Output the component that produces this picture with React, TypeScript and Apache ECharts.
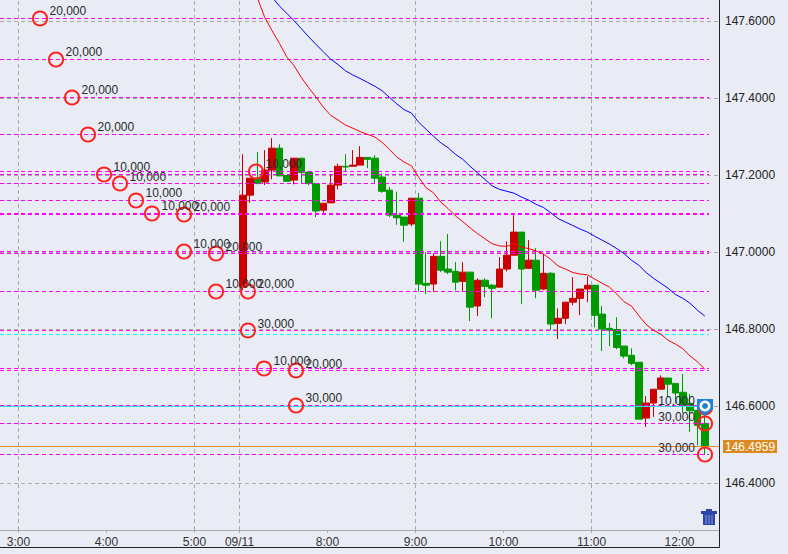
import React, { useEffect, useRef } from "react";
import * as echarts from "echarts";

const FONT = "Liberation Sans";
const FIRST_CANDLE_SLOT = 30.45;
const openPrices = [
  146.91, 147.149, 147.193, 147.183, 147.214, 147.271, 147.2, 147.188, 147.245, 147.209, 147.179, 147.11, 147.129, 147.175, 147.224, 147.224,
  147.227, 147.247, 147.245, 147.196, 147.162, 147.097, 147.092, 147.074, 147.141, 146.92, 146.918, 146.99, 146.957, 146.951, 146.925, 146.949,
  146.861, 146.928, 146.915, 146.91, 146.957, 146.993, 147.053, 146.959, 146.98, 146.905, 146.946, 146.816, 146.829, 146.871, 146.881, 146.905,
  146.915, 146.84, 146.803, 146.8, 146.757, 146.733, 146.715, 146.57, 146.609, 146.645, 146.674, 146.66, 146.637, 146.608, 146.59, 146.556,
];
const closePrices = [
  147.149, 147.193, 147.179, 147.214, 147.271, 147.199, 147.185, 147.245, 147.208, 147.179, 147.108, 147.128, 147.175, 147.224, 147.222, 147.227,
  147.247, 147.242, 147.193, 147.159, 147.097, 147.09, 147.071, 147.141, 146.918, 146.915, 146.99, 146.954, 146.949, 146.923, 146.949, 146.858,
  146.928, 146.912, 146.907, 146.957, 146.993, 147.053, 146.957, 146.98, 146.902, 146.946, 146.814, 146.829, 146.871, 146.881, 146.905, 146.915,
  146.837, 146.801, 146.798, 146.753, 146.731, 146.712, 146.567, 146.609, 146.645, 146.674, 146.658, 146.635, 146.603, 146.589, 146.551, 146.4959,
];
const lowPrices = [
  146.902, 147.129, 147.179, 147.175, 147.19, 147.199, 147.183, 147.177, 147.18, 147.175, 147.092, 147.103, 147.128, 147.164, 147.21, 147.224,
  147.227, 147.219, 147.179, 147.155, 147.092, 147.072, 147.028, 147.068, 146.898, 146.892, 146.898, 146.949, 146.944, 146.902, 146.898, 146.822,
  146.835, 146.884, 146.829, 146.91, 146.951, 146.993, 146.866, 146.957, 146.881, 146.902, 146.798, 146.775, 146.814, 146.863, 146.837, 146.871,
  146.806, 146.744, 146.757, 146.749, 146.725, 146.707, 146.567, 146.547, 146.573, 146.645, 146.625, 146.609, 146.583, 146.534, 146.499, 146.474,
];
const highPrices = [
  147.255, 147.193, 147.261, 147.266, 147.297, 147.281, 147.201, 147.245, 147.245, 147.209, 147.179, 147.128, 147.201, 147.231, 147.255, 147.266,
  147.276, 147.248, 147.253, 147.205, 147.17, 147.158, 147.092, 147.141, 147.155, 147.001, 146.998, 147.029, 147.048, 146.975, 146.975, 146.949,
  146.933, 146.933, 146.918, 146.988, 147.029, 147.097, 147.053, 147.032, 147.011, 146.996, 146.949, 146.855, 146.871, 146.936, 146.905, 146.938,
  146.915, 146.861, 146.817, 146.832, 146.757, 146.751, 146.715, 146.627, 146.645, 146.681, 146.674, 146.66, 146.684, 146.632, 146.59, 146.59,
];
const redMaStart = 2;
const redMa = [
  147.661, 147.61, 147.576, 147.543, 147.508, 147.485, 147.454, 147.428, 147.403, 147.377, 147.356, 147.344, 147.331, 147.323, 147.314, 147.307,
  147.3, 147.286, 147.268, 147.248, 147.235, 147.225, 147.195, 147.168, 147.155, 147.131, 147.114, 147.095, 147.08, 147.064, 147.049, 147.036,
  147.023, 147.017, 147.016, 147.022, 147.014, 147.01, 147.004, 146.996, 146.982, 146.965, 146.957, 146.948, 146.944, 146.942, 146.931, 146.92,
  146.91, 146.892, 146.872, 146.861, 146.836, 146.813, 146.798, 146.788, 146.772, 146.762, 146.75, 146.731, 146.716, 146.697,
];
const blueMaStart = 4;
const blueMa = [
  147.663, 147.64, 147.621, 147.602, 147.581, 147.56, 147.54, 147.521, 147.502, 147.488, 147.472, 147.461, 147.452, 147.442, 147.432, 147.42,
  147.403, 147.386, 147.371, 147.362, 147.338, 147.32, 147.302, 147.285, 147.272, 147.255, 147.242, 147.224, 147.207, 147.19, 147.173, 147.164,
  147.159, 147.154, 147.144, 147.136, 147.125, 147.117, 147.103, 147.088, 147.079, 147.07, 147.061, 147.053, 147.042, 147.032, 147.022, 147.01,
  146.997, 146.98, 146.967, 146.948, 146.933, 146.92, 146.907, 146.891, 146.881, 146.868, 146.85, 146.835,
];
const orderSlots = [
  2.796, 4.977, 7.159, 9.341, 11.523, 13.705, 15.887, 18.068, 22.432, 22.432, 26.796, 26.796, 31.159, 31.159, 33.341, 37.705, 37.705, 32.25, 93.477, 93.477, 93.477,
];
const orderPrices = [
  147.6078, 147.5013, 147.4026, 147.3065, 147.2026, 147.1792, 147.1351, 147.1013, 147.0987, 147.0026, 146.9974, 146.8987, 146.8987, 146.7974, 146.6987, 146.6935, 146.6026, 147.2104, 146.5558, 146.4753, 146.5974,
];
const orderSizes = [
  "20,000", "20,000", "20,000", "20,000", "10,000", "10,000", "10,000", "10,000", "20,000", "10,000", "20,000", "10,000", "20,000", "30,000", "10,000", "20,000", "30,000", "10,000", "30,000", "30,000", "10,000",
];
const priceTicks = [146.4, 146.6, 146.8, 147.0, 147.2, 147.4, 147.6];
const timeSlots = [-0.136, 11.864, 23.864, 30, 42, 54, 66, 78, 90];
const timeLabels = ["3:00", "4:00", "5:00", "09/11", "8:00", "9:00", "10:00", "11:00", "12:00"];
const gridSlots = [-0.136, 23.864, 30, 54, 78];
const lastPrice = 146.4959;
const askPrice = 146.6;
const cyanPrice = 146.787;

const X_MIN = -2.659;
const X_MAX = 95.386;
const Y_MIN = 146.27922;
const Y_MAX = 147.65584;
const LINE_END = 94.02;
const GRID_END = 95.25;
const ASK_END = 92.4;

const seg = (p: number, end: number) => [{ coord: [X_MIN, p] }, { coord: [end, p] }];

export default function App() {
  const ref = useRef<HTMLDivElement>(null);
  useEffect(() => {
    document.body.style.margin = "0";
    const chart = echarts.init(ref.current!, null, { renderer: "svg" });
    const candles = openPrices.map((o, i) => [FIRST_CANDLE_SLOT + i, o, closePrices[i], lowPrices[i], highPrices[i]]);
    const ma = (vals: number[], start: number) => vals.map((v, i) => [FIRST_CANDLE_SLOT + start + i, v]);
    const trashRects = [
      [706, 509, 6, 2, "#2b46a8"],
      [701, 511, 16, 3, "#2b46a8"],
      [703, 514, 12, 11, "#2b46a8"],
      [705.5, 515, 1, 9, "#8e9cdc"],
      [708.5, 515, 1, 9, "#8e9cdc"],
      [711.5, 515, 1, 9, "#8e9cdc"],
    ] as [number, number, number, number, string][];
    chart.setOption({
      animation: false,
      backgroundColor: "#E9ECF5",
      textStyle: { fontFamily: FONT, fontSize: 12 },
      grid: { left: 0, top: 0, width: 719, height: 530 },
      xAxis: {
        type: "value",
        min: X_MIN,
        max: X_MAX,
        splitLine: { show: false },
        axisLine: { show: true, lineStyle: { color: "#aaaaaa", width: 1 } },
        axisTick: { show: true, length: 3, customValues: timeSlots, lineStyle: { color: "#aaaaaa" } },
        axisLabel: {
          customValues: timeSlots,
          margin: 6,
          color: "#333333",
          fontFamily: FONT,
          fontSize: 12,
          formatter: (v: number) => timeLabels[timeSlots.indexOf(v)] ?? "",
        },
      },
      yAxis: {
        type: "value",
        position: "right",
        min: Y_MIN,
        max: Y_MAX,
        splitLine: { show: false },
        axisLine: { show: false },
        axisTick: { show: false },
        axisLabel: {
          customValues: priceTicks,
          margin: 6,
          color: "#222222",
          fontFamily: FONT,
          fontSize: 12,
          formatter: (v: number) => v.toFixed(4),
        },
      },
      series: [
        {
          type: "line",
          data: [],
          silent: true,
          markLine: {
            z: 1,
            silent: true,
            symbol: "none",
            animation: false,
            label: { show: false },
            lineStyle: { color: "#aaaaaa", type: [4, 3], width: 1 },
            data: [
              ...priceTicks.map((p) => seg(p, GRID_END)),
              ...gridSlots.map((s) => [{ coord: [s, Y_MIN] }, { coord: [s, Y_MAX] }]),
            ],
          },
        },
        {
          type: "candlestick",
          z: 2,
          silent: true,
          barWidth: 7,
          encode: { x: 0, y: [1, 2, 3, 4] },
          itemStyle: { color: "#cc0000", color0: "#009900", borderColor: "#cc0000", borderColor0: "#009900", borderWidth: 1 },
          data: candles,
        },
        {
          type: "line",
          data: [],
          silent: true,
          markLine: {
            z: 4,
            silent: true,
            symbol: "none",
            animation: false,
            label: { show: false },
            lineStyle: { color: "#ff00ff", type: [4, 3], width: 1 },
            data: [
              ...orderPrices.slice(0, 20).map((p) => seg(p, LINE_END)),
              [
                { coord: [X_MIN, cyanPrice], lineStyle: { color: "#00ffff" } },
                { coord: [LINE_END, cyanPrice] },
              ],
              [
                { coord: [X_MIN, askPrice], lineStyle: { color: "#30e0e0", type: "solid" } },
                { coord: [ASK_END, askPrice] },
              ],
            ],
          },
        },
        {
          type: "line",
          data: [],
          silent: true,
          markLine: {
            z: 5,
            silent: true,
            symbol: "none",
            animation: false,
            lineStyle: { color: "#dd9020", type: "solid", width: 1, opacity: 1 },
            label: {
              show: true,
              position: "end",
              distance: 4,
              color: "#ffffff",
              fontFamily: FONT,
              fontSize: 12,
              backgroundColor: "#db8a1f",
              padding: [1, 2, 0, 2],
              lineHeight: 12,
              formatter: () => lastPrice.toFixed(4),
            },
            data: [
              [
                { coord: [X_MIN, lastPrice], lineStyle: { color: "#dd9020", type: "solid", width: 1, opacity: 1 } },
                { coord: [X_MAX, lastPrice] },
              ],
            ],
          },
        },
        {
          type: "line",
          z: 5,
          silent: true,
          symbol: "none",
          lineStyle: { color: "#ff0000", width: 1 },
          data: ma(redMa, redMaStart),
        },
        {
          type: "line",
          z: 5,
          silent: true,
          symbol: "none",
          lineStyle: { color: "#0000ff", width: 1 },
          data: ma(blueMa, blueMaStart),
        },
        {
          type: "scatter",
          z: 6,
          silent: true,
          symbol: "circle",
          symbolSize: 14,
          itemStyle: { color: "rgba(0,0,0,0)", borderColor: "#ff2020", borderWidth: 2, opacity: 1 },
          data: orderPrices.map((p, i) => ({
            value: [orderSlots[i], p],
            label: {
              show: true,
              position: orderSlots[i] > 90 ? "left" : "right",
              distance: orderSlots[i] > 90 ? 2 : 1.5,
              offset: [0, -7],
              formatter: orderSizes[i],
              color: "#2a2a2a",
              fontFamily: FONT,
              fontSize: 12,
            },
          })),
        },
      ],
      graphic: [
        { type: "line", silent: true, z: 50, shape: { x1: 719.5, y1: 0, x2: 719.5, y2: 547.5 }, style: { stroke: "#222222", lineWidth: 1 } },
        { type: "line", silent: true, z: 50, shape: { x1: 0, y1: 547.5, x2: 719.5, y2: 547.5 }, style: { stroke: "#222222", lineWidth: 1 } },
        ...trashRects.map(([x, y, width, height, fill]) => ({
          type: "rect",
          silent: true,
          z: 50,
          shape: { x, y, width, height },
          style: { fill },
        })),
        {
          type: "polygon",
          silent: true,
          z: 60,
          shape: { points: [[697, 399], [713, 399], [713, 409], [705, 416], [697, 409]] },
          style: { fill: "#2280d0" },
        },
        { type: "circle", silent: true, z: 61, shape: { cx: 705, cy: 406, r: 5.5 }, style: { fill: "#ffffff" } },
        { type: "circle", silent: true, z: 62, shape: { cx: 705, cy: 406, r: 3 }, style: { fill: "#2280d0" } },
      ],
    });
    return () => chart.dispose();
  }, []);
  return <div ref={ref} style={{ width: 788, height: 554 }} />;
}
